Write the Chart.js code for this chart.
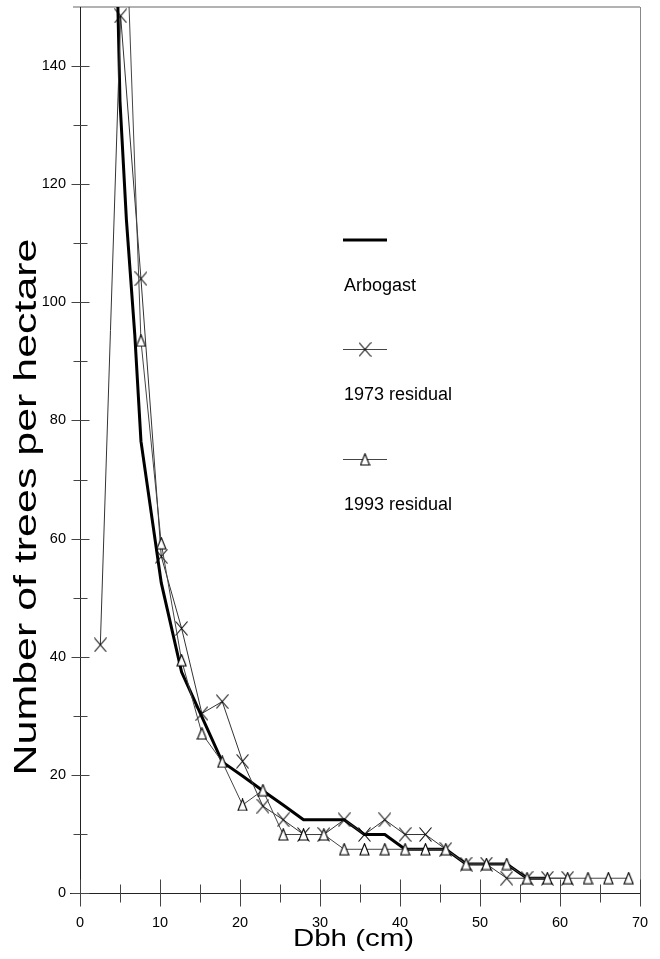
<!DOCTYPE html>
<html><head><meta charset="utf-8">
<style>html,body{margin:0;padding:0;background:#fff;}#wrap{width:660px;height:959px;position:relative;}</style>
<script src="https://cdn.jsdelivr.net/npm/chart.js@4.4.1/dist/chart.umd.min.js"></script>
</head><body><div id="wrap"><canvas id="c" width="660" height="959"></canvas></div>
<script>
// ---- data ----
const dbhClasses = [2.54,5.08,7.62,10.16,12.70,15.24,17.78,20.32,22.86,25.40,27.94,30.48,33.02,35.56,38.10,40.64,43.18,45.72,48.26,50.80,53.34,55.88,58.42,60.96,63.50,66.04,68.58];
const residual1973 = [42,148.5,104,57,44.8,30.4,32.4,22.3,14.7,12.4,9.9,9.9,12.4,9.9,12.4,9.9,9.9,7.4,4.9,4.9,2.5,2.5,2.5,2.5,null,null,null];
const residual1993 = [null,190,93.5,59.2,39.4,27,22.2,14.9,17.4,9.9,9.9,9.9,7.4,7.4,7.4,7.4,7.4,7.4,4.9,4.9,4.9,2.5,2.5,2.5,2.5,2.5,2.5];
const arbogastDbh = [4.72,5.0,5.8,6.85,7.62,10.16,12.70,15.24,17.78,20.32,22.86,25.40,27.94,30.48,33.02,35.56,38.10,40.64,43.18,45.72,48.26,50.80,53.34,55.88,58.42];
const arbogastTrees = [151,134,114,94.5,76.5,52.5,37.4,29.8,22.2,19.8,17.3,14.9,12.4,12.4,12.4,9.9,9.9,7.4,7.4,7.4,4.9,4.9,4.9,2.5,2.5];
const xTickLabels = [0,10,20,30,40,50,60,70];
const yTickLabels = [0,20,40,60,80,100,120,140];
const seriesNames = ['Arbogast','1973 residual','1993 residual'];
const xTitle = 'Dbh (cm)';
const yTitle = 'Number of trees per hectare';

const FONT = '"Liberation Sans", Arial, Helvetica, sans-serif';

function makeCross(){
  const c=document.createElement('canvas'); c.width=13; c.height=15;
  const g=c.getContext('2d'); g.strokeStyle='#000'; g.lineWidth=1.1;
  g.beginPath(); g.moveTo(0.5,0.5); g.lineTo(12.5,14.5); g.moveTo(12.5,0.5); g.lineTo(0.5,14.5); g.stroke();
  return c;
}
function makeTri(){
  const c=document.createElement('canvas'); c.width=11; c.height=13;
  const g=c.getContext('2d'); g.fillStyle='#fff'; g.strokeStyle='#000'; g.lineWidth=1.1;
  g.beginPath(); g.moveTo(5.5,0.8); g.lineTo(10,12); g.lineTo(1,12); g.closePath(); g.fill(); g.stroke();
  return c;
}
const crossImg = makeCross();
const triImg = makeTri();

const pairs = (xs, ys) => xs.map((x,i)=>({x:x, y:ys[i]}));

const deco = {
  id:'deco',
  beforeDatasetsDraw(chart){
    const ctx=chart.ctx, xs=chart.scales.x, ys=chart.scales.y, a=chart.chartArea;
    ctx.save();
    // top & right borders
    ctx.strokeStyle='#999'; ctx.lineWidth=1.5;
    ctx.beginPath(); ctx.moveTo(73,a.top); ctx.lineTo(a.right,a.top); ctx.stroke();
    ctx.strokeStyle='#888'; ctx.lineWidth=1;
    ctx.beginPath(); ctx.moveTo(a.right+0.5,a.top); ctx.lineTo(a.right+0.5,905); ctx.stroke();
    // axes
    ctx.strokeStyle='#222'; ctx.lineWidth=1;
    const x0=Math.round(xs.getPixelForValue(0))+0.5, y0=Math.round(ys.getPixelForValue(0))+0.5;
    ctx.beginPath(); ctx.moveTo(x0,a.top); ctx.lineTo(x0,905); ctx.stroke();
    ctx.beginPath(); ctx.moveTo(70,y0); ctx.lineTo(a.right,y0); ctx.stroke();
    // ticks
    ctx.strokeStyle='#444';
    for(let v=0; v<150; v+=10){
      const p=Math.round(ys.getPixelForValue(v))+0.5, L=(v%20===0)?9:7;
      ctx.beginPath(); ctx.moveTo(x0-L,p); ctx.lineTo(x0+L,p); ctx.stroke();
    }
    for(let v=0; v<=70; v+=5){
      const p=Math.round(xs.getPixelForValue(v))+0.5;
      const up=(v%10===0)?14:9, dn=(v%10===0)?13:9;
      ctx.beginPath(); ctx.moveTo(p,y0-up); ctx.lineTo(p,y0+dn); ctx.stroke();
    }
    ctx.restore();
  },
  afterDraw(chart){
    const ctx=chart.ctx;
    ctx.save();
    ctx.fillStyle='#000';
    // legend
    ctx.font='18px '+FONT; ctx.textAlign='left'; ctx.textBaseline='alphabetic';
    ctx.strokeStyle='#000'; ctx.lineWidth=3;
    ctx.beginPath(); ctx.moveTo(343,240); ctx.lineTo(387,240); ctx.stroke();
    ctx.fillText(seriesNames[0],344,291);
    ctx.strokeStyle='#444'; ctx.lineWidth=1;
    ctx.beginPath(); ctx.moveTo(343,349.5); ctx.lineTo(387,349.5); ctx.stroke();
    ctx.drawImage(crossImg,365-6.5,349.5-7.5);
    ctx.fillText(seriesNames[1],344,400);
    ctx.beginPath(); ctx.moveTo(343,459.5); ctx.lineTo(387,459.5); ctx.stroke();
    ctx.drawImage(triImg,365-5.5,460-7);
    ctx.fillText(seriesNames[2],344,510);
    // x title
    ctx.font='24px '+FONT; ctx.textAlign='center'; ctx.textBaseline='alphabetic';
    let w=ctx.measureText(xTitle).width;
    ctx.save(); ctx.translate(353.5,946); ctx.scale(121/w,1); ctx.fillText(xTitle,0,0); ctx.restore();
    // y title
    ctx.font='32px '+FONT; ctx.textBaseline='middle';
    w=ctx.measureText(yTitle).width;
    ctx.save(); ctx.translate(27,507); ctx.rotate(-Math.PI/2); ctx.scale(537/w,1); ctx.fillText(yTitle,0,0); ctx.restore();
    ctx.restore();
  }
};

new Chart(document.getElementById('c'), {
  type:'line',
  data:{ datasets:[
    { label:seriesNames[0], data:pairs(arbogastDbh,arbogastTrees), borderColor:'#000', borderWidth:3, pointRadius:0, tension:0, fill:false, order:3 },
    { label:seriesNames[1], data:pairs(dbhClasses,residual1973), borderColor:'#333', borderWidth:1, pointStyle:crossImg, pointRadius:6, tension:0, fill:false, order:2 },
    { label:seriesNames[2], data:pairs(dbhClasses,residual1993), borderColor:'#444', borderWidth:1, pointStyle:triImg, pointRadius:6, tension:0, fill:false, order:1 }
  ]},
  options:{
    responsive:false, animation:false, devicePixelRatio:1,
    layout:{ padding:{ top:7, right:20, left:0, bottom:0 } },
    plugins:{ legend:{display:false}, tooltip:{enabled:false} },
    scales:{
      x:{ type:'linear', min:0, max:70,
          afterFit(s){ s.height=66; s.paddingLeft=0; s.paddingRight=0; s.paddingTop=0; s.paddingBottom=0; },
          grid:{display:false, drawTicks:false}, border:{display:false},
          ticks:{ stepSize:10, padding:21, color:'#000', font:{family:FONT,size:14.5},
                  callback:(v)=> xTickLabels.includes(v)? String(v):'' } },
      y:{ type:'linear', min:0, max:150,
          afterFit(s){ s.width=80; s.paddingLeft=0; s.paddingRight=0; s.paddingTop=0; s.paddingBottom=0; },
          grid:{display:false, drawTicks:false}, border:{display:false},
          ticks:{ stepSize:20, padding:14, color:'#000', font:{family:FONT,size:14.5},
                  callback:(v)=> yTickLabels.includes(v)? String(v):'' } }
    }
  },
  plugins:[deco]
});
</script></body></html>
